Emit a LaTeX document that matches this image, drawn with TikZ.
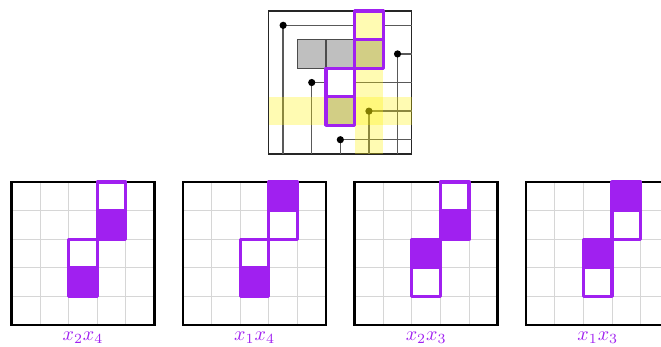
\documentclass[tikz,border=0pt]{standalone}
\definecolor{vio}{HTML}{A020F0}
\begin{document}
\begin{tikzpicture}[x=14.3pt,y=-14.3pt,
  wire/.style={draw=black!65, line width=0.7pt},
  dot/.style={circle, fill=black, inner sep=0pt, minimum size=3.6pt},
  graycell/.style={fill=black!25, draw=black!70, line width=0.6pt},
  hilite/.style={fill=yellow, fill opacity=0.3},
  domino/.style={draw=vio, line width=1.6pt, line join=round},
  topframe/.style={draw=black!85, line width=0.6pt},
  frame/.style={draw=black, line width=1.2pt},
  gridl/.style={draw=black!16, line width=0.5pt},
  lbl/.style={text=vio, anchor=base}]
\useasboundingbox (0,0) rectangle (23.112,12.098);
% ---------- top diagram ----------
\begin{scope}[shift={(9.4,0.385)}]
  \draw[topframe] (0,0) rectangle (5,5);
  \foreach \c/\r [count=\i] in {0/0,4/1,1/2,3/3,2/4}{
    \coordinate (p\i) at (\c+0.5,\r+0.5);
    \coordinate (p\i r) at (5,\r+0.5);
    \coordinate (p\i b) at (\c+0.5,5);
    \draw[wire] (p\i r) -| (p\i b);
    \node[dot] (d\i) at (p\i) {};
  }
  \draw[graycell] (1,1) rectangle (2,2);
  \draw[graycell] (2,1) rectangle (3,2);
  \draw[graycell] (3,1) rectangle (4,2);
  \draw[graycell] (2,3) rectangle (3,4);
  \fill[white] (3,0) rectangle (4,1);
  \fill[white] (2,2) rectangle (3,3);
  \fill[hilite] (3,0) rectangle (4,5);
  \fill[hilite] (0,3) rectangle (5,4);
  \draw[domino] (3,0) rectangle (4,2) (3,1) -- (4,1);
  \draw[domino] (2,2) rectangle (3,4) (2,3) -- (3,3);
\end{scope}
% ---------- bottom panels ----------
\foreach \k/\ta/\tb/\lab in {0/1/1/{x_2x_4}, 1/0/1/{x_1x_4}, 2/1/0/{x_2x_3}, 3/0/0/{x_1x_3}}{
  \begin{scope}[shift={(0.402+6*\k,6.364)}]
    \foreach \g in {1,2,3,4}{
      \draw[gridl] (\g,0) -- (\g,5);
      \draw[gridl] (0,\g) -- (5,\g);
    }
    \draw[frame] (0,0) rectangle (5,5);
    \fill[vio] (3,\ta) rectangle (4,{\ta+1});
    \fill[vio] (2,{2+\tb}) rectangle (3,{3+\tb});
    \draw[domino] (3,0) rectangle (4,2) (3,1) -- (4,1);
    \draw[domino] (2,2) rectangle (3,4) (2,3) -- (3,3);
    \node[lbl] (lab\k) at (2.5,5.524) {$\lab$};
  \end{scope}
}
\end{tikzpicture}
\end{document}
